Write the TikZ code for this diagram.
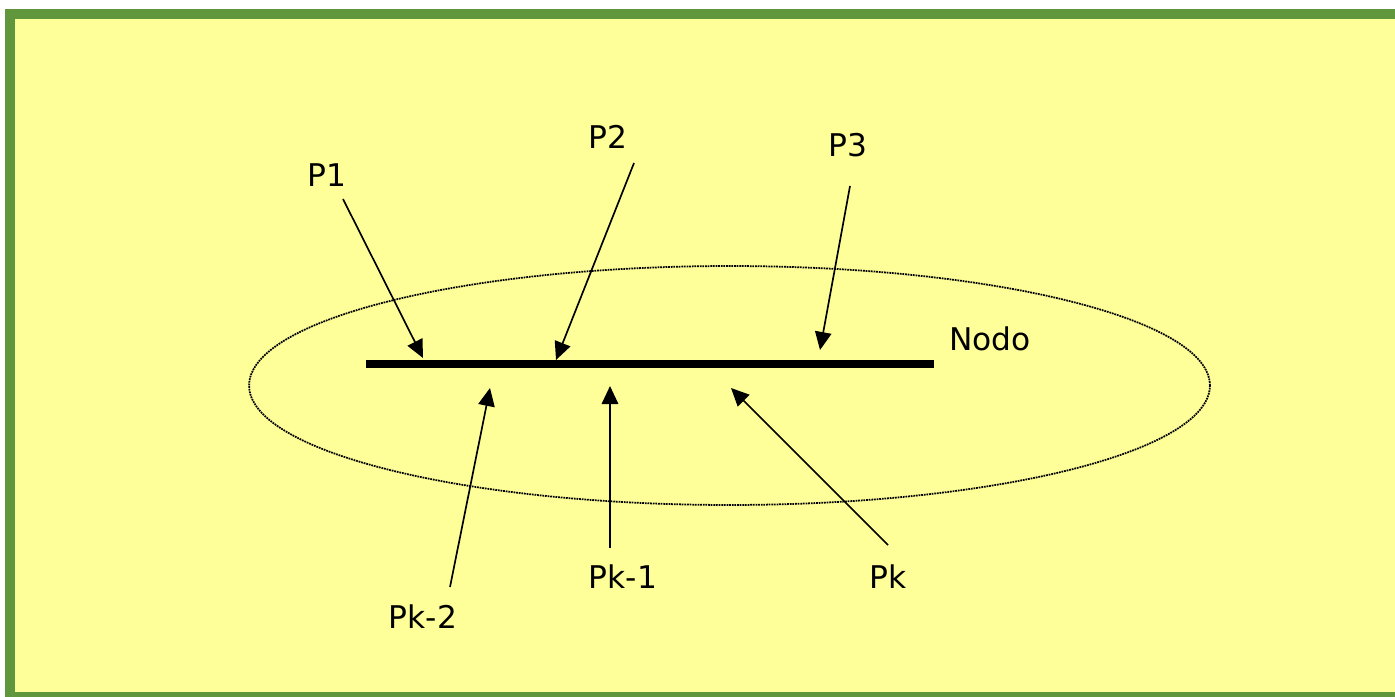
\documentclass[tikz,border=0pt]{standalone}
\usepackage{fontspec}
\setmainfont{DejaVu Sans}
\usetikzlibrary{arrows.meta,shapes.geometric}
\definecolor{bggreen}{RGB}{96,150,60}
\definecolor{bgyellow}{RGB}{255,255,153}
\tikzset{
  lbl/.style={anchor=base,inner sep=0pt,font=\fontsize{17.8pt}{20pt}\selectfont},
  arr/.style={line width=0.95pt,-{Triangle[length=0.36cm,width=0.33cm]}},
}
\begin{document}
\begin{tikzpicture}[x=0.02cm,y=-0.02cm]
\useasboundingbox (0,0) rectangle (1395,696);
\fill[white] (0,0) rectangle (1395,696);
\draw[bggreen,line width=0.2cm,fill=bgyellow] (10,14) rectangle (1402,697);
\node[draw,dash pattern=on 1pt off 0.5pt,line width=1pt,ellipse,minimum width=19.22cm,minimum height=4.78cm,inner sep=0pt] (nodo) at (729.5,385.5) {};
\coordinate (barL) at (366,364);
\coordinate (barR) at (934,364);
\draw[line width=0.16cm] (barL) -- (barR);
\node[lbl] (p1) at (327,186) {P1};
\node[lbl] (p2) at (608,148.5) {P2};
\node[lbl] (p3) at (848,156.5) {P3};
\node[lbl] (nodolbl) at (990,350) {Nodo};
\node[lbl] (pk2) at (423,628) {Pk-2};
\node[lbl] (pk1) at (623,588) {Pk-1};
\node[lbl] (pk) at (888,588) {Pk};
\coordinate (s1) at (343,199); \coordinate (e1) at (423,358);
\coordinate (s2) at (634,163); \coordinate (e2) at (556,360);
\coordinate (s3) at (850,186); \coordinate (e3) at (820,350);
\coordinate (s4) at (450,587); \coordinate (e4) at (490,388);
\coordinate (s5) at (610,548); \coordinate (e5) at (610,386);
\coordinate (s6) at (888,545); \coordinate (e6) at (731,388);
\draw[arr] (s1) -- (e1);
\draw[arr] (s2) -- (e2);
\draw[arr] (s3) -- (e3);
\draw[arr] (s4) -- (e4);
\draw[arr] (s5) -- (e5);
\draw[arr] (s6) -- (e6);
\end{tikzpicture}
\end{document}
